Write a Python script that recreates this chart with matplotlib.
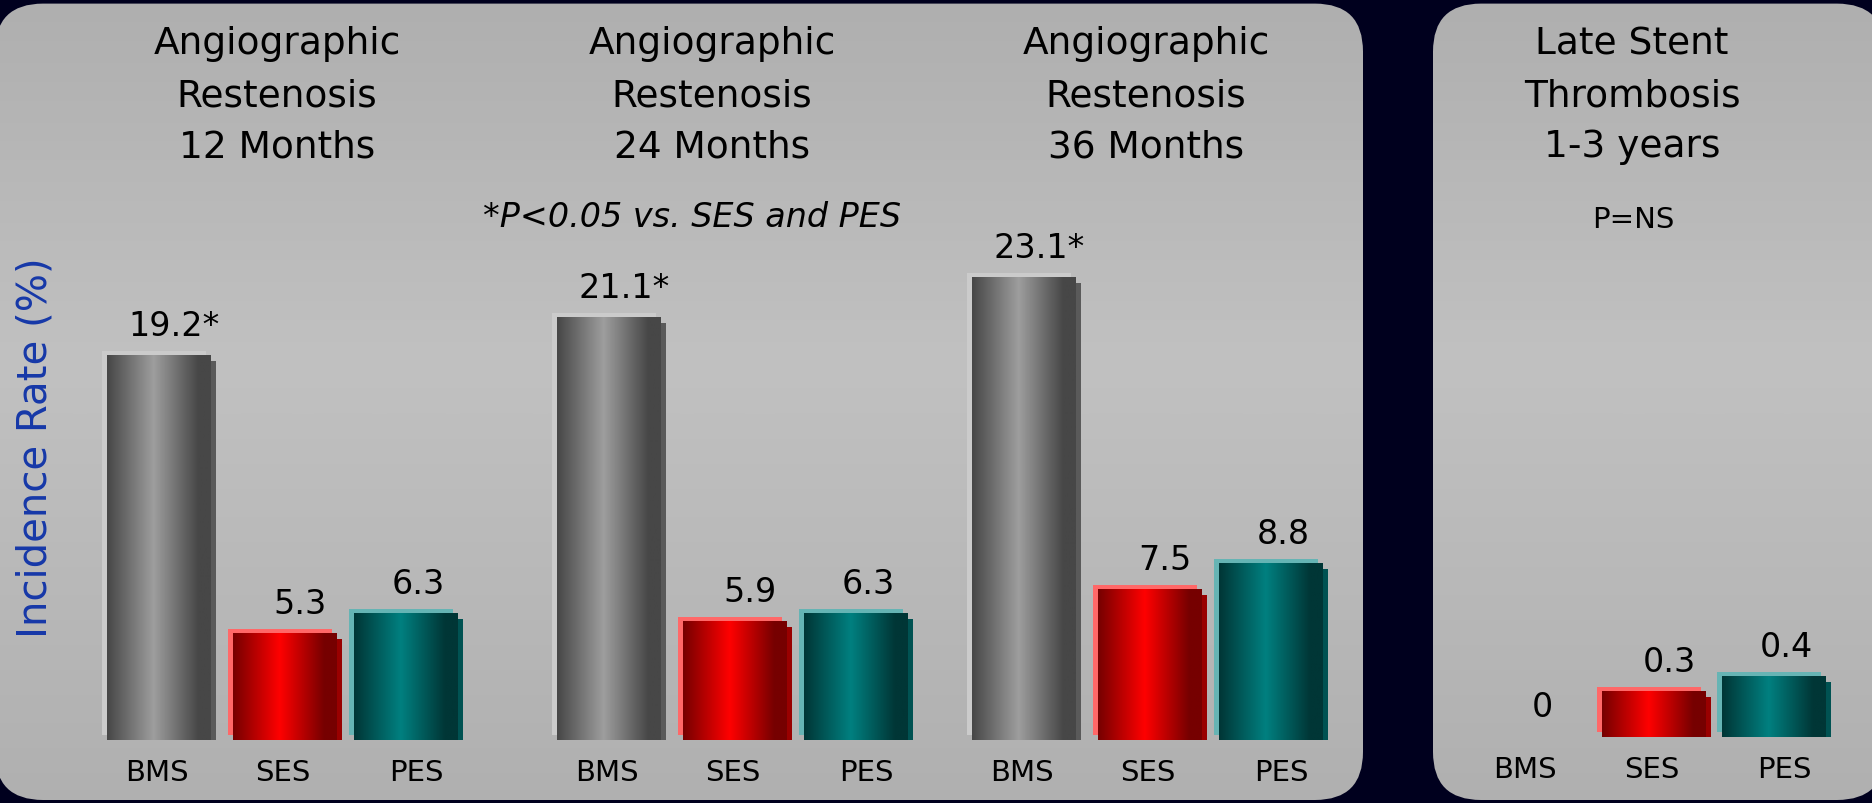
import numpy as np
import matplotlib
matplotlib.use("Agg")
import matplotlib.pyplot as plt
import matplotlib.transforms as mtransforms
from matplotlib.patches import FancyBboxPatch
from matplotlib.colors import LinearSegmentedColormap

plt.rcParams["font.family"] = ["DejaVu Sans"]

# ---------------- data ----------------
categories = ["BMS", "SES", "PES"]
restenosis_12m = [19.2, 5.3, 6.3]
restenosis_24m = [21.1, 5.9, 6.3]
restenosis_36m = [23.1, 7.5, 8.8]
thrombosis_1_3y = [0.0, 0.3, 0.4]
significant = [True, False, False]   # *P<0.05 vs. SES and PES (restenosis panels)

group_titles = [
    ["Angiographic", "Restenosis", "12 Months"],
    ["Angiographic", "Restenosis", "24 Months"],
    ["Angiographic", "Restenosis", "36 Months"],
    ["Late Stent", "Thrombosis", "1-3 years"],
]
footnote = "*P<0.05 vs. SES and PES"
thrombosis_note = "P=NS"
y_label = "Incidence Rate (%)"

# ---------------- styles ----------------
W, H = 1872, 803
BAR_W = 104
bar_styles = {
    "BMS": dict(edge="#474747", mid="#9e9e9e", hl="#cbcbcb", sh="#5a5a5a"),
    "SES": dict(edge="#760000", mid="#ff0000", hl="#ff6868", sh="#990000"),
    "PES": dict(edge="#003636", mid="#008080", hl="#66b4b4", sh="#005252"),
}
value_dx = [15, 15, 12]
label_dx = [-2, -2, 10]

fig = plt.figure(figsize=(W / 100, (H + 0.4) / 100), dpi=100)
fig.patch.set_facecolor("#00001e")

# ---------------- background panels ----------------
bg = fig.add_axes([0, 0, 1, 1], zorder=0)
bg.set_xlim(0, W)
bg.set_ylim(H, 0)
bg.axis("off")
bg.add_patch(plt.Rectangle((0, 0), W, H, color="#00001e", zorder=0))

panel_cmap = LinearSegmentedColormap.from_list(
    "panel", [(0.0, "#afafaf"), (0.45, "#c1c1c1"), (1.0, "#b0b0b0")])
vgrad = np.linspace(0, 1, 256).reshape(-1, 1)
for (x0, x1) in [(-5, 1363), (1433, 1885)]:
    patch = FancyBboxPatch((x0, 4), x1 - x0, 796,
                           boxstyle="round,pad=0,rounding_size=48",
                           facecolor="none", edgecolor="none", zorder=1)
    bg.add_patch(patch)
    im = bg.imshow(vgrad, cmap=panel_cmap, extent=(0, W, H, 0),
                   aspect="auto", zorder=1, interpolation="bilinear")
    im.set_clip_path(patch)
bg.set_xlim(0, W)
bg.set_ylim(H, 0)


def make_axes(bottom_px, height_px, ymax):
    ax = fig.add_axes([0, bottom_px / H, 1, height_px / H], zorder=2)
    ax.set_xlim(0, W)
    ax.set_ylim(0, ymax)
    ax.axis("off")
    ax.patch.set_alpha(0)
    return ax


ax_rest = make_axes(63, 600, 30)
ax_thr = make_axes(66, 300, 2)


def offset(ax, dx, dy):
    return ax.transData + mtransforms.ScaledTranslation(dx / 100, dy / 100,
                                                        fig.dpi_scale_trans)


def draw_group(ax, centers, values, stars):
    for i, (cat, xc, v) in enumerate(zip(categories, centers, values)):
        st = bar_styles[cat]
        if v > 0:
            ax.bar(xc, v, width=BAR_W, color=st["hl"], linewidth=0,
                   transform=offset(ax, -5, 5), zorder=2)
            ax.bar(xc, v, width=BAR_W, color=st["sh"], linewidth=0,
                   transform=offset(ax, 5, -5), zorder=3)
            cmap = LinearSegmentedColormap.from_list(
                cat, [(0.0, st["edge"]), (0.45, st["mid"]),
                      (0.88, st["edge"]), (1.0, st["edge"])])
            ax.imshow(np.linspace(0, 1, 200).reshape(1, -1), cmap=cmap,
                      extent=(xc - BAR_W / 2, xc + BAR_W / 2, 0, v),
                      aspect="auto", zorder=4, interpolation="bilinear")
        txt = f"{v:g}" + ("*" if stars[i] else "")
        ax.annotate(txt, xy=(xc, v), xytext=(value_dx[i], 20),
                    textcoords="offset pixels", ha="center", va="baseline",
                    fontsize=24, color="black", zorder=5)
        ax.annotate(cat, xy=(xc, 0), xytext=(label_dx[i], -33),
                    textcoords="offset pixels", ha="center", va="center",
                    fontsize=21, color="black", zorder=5)
    ax.set_xlim(0, W)


draw_group(ax_rest, [159, 285, 406], restenosis_12m, significant)
draw_group(ax_rest, [609, 735, 856], restenosis_24m, significant)
draw_group(ax_rest, [1024, 1150, 1271], restenosis_36m, significant)
ax_rest.set_ylim(0, 30)
draw_group(ax_thr, [1527, 1654, 1774], thrombosis_1_3y, [False] * 3)
ax_thr.set_ylim(0, 2)

# ---------------- text ----------------
title_x = [277, 712, 1146, 1632]
line_baselines = [54, 106, 157]
for tx, lines in zip(title_x, group_titles):
    for ly, line in zip(line_baselines, lines):
        bg.text(tx, ly, line, ha="center", va="baseline", fontsize=27,
                color="black", zorder=5)

bg.text(692, 227, footnote, ha="center", va="baseline", fontsize=24,
        style="italic", color="black", zorder=5)
bg.text(1633, 228, thrombosis_note, ha="center", va="baseline", fontsize=21,
        color="black", zorder=5)
bg.text(36, 447, y_label, ha="center", va="center", rotation=90,
        fontsize=29, color="#1638a8", zorder=5)

fig.savefig("out.png", dpi=100, facecolor=fig.get_facecolor())
